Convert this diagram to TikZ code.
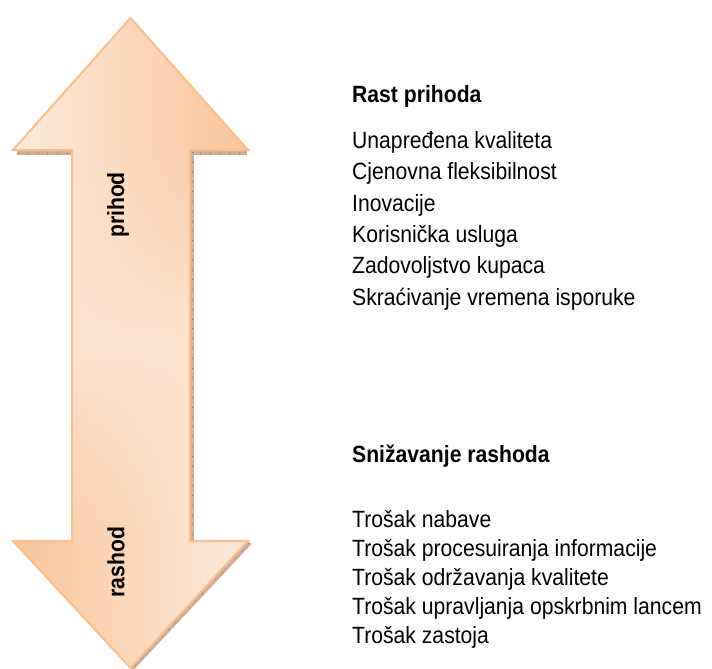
\documentclass[tikz,border=0pt]{standalone}
\usepackage{fontspec}
\setmainfont{Liberation Sans}[FakeStretch=0.9]
\definecolor{arrlight}{HTML}{FDEBDD}
\definecolor{arrdark}{HTML}{F8C49A}
\definecolor{arredge}{HTML}{F9BE8C}
\definecolor{shadowtan}{HTML}{CDAE98}
\definecolor{shadowtick}{HTML}{8E6D58}
\tikzset{
  listtext/.style={anchor=base west, inner sep=0pt, font=\fontsize{23.5bp}{26bp}\selectfont},
  headtext/.style={listtext, font=\fontsize{23.5bp}{26bp}\selectfont\bfseries},
  arrowlabel/.style={rotate=90, inner sep=0pt, font=\fontsize{23.5bp}{26bp}\selectfont\bfseries},
  shadowstrip/.style={fill=shadowtan},
  shadowticks/.style={draw=shadowtick, line width=0.6bp, dash pattern=on 0.8bp off 9bp},
}
\begin{document}
\begin{tikzpicture}[x=1bp, y=-1bp]
\useasboundingbox (0,0) rectangle (712,669);
% shadow strips
\fill[shadowstrip] (17,150) rectangle (72,155);
\fill[shadowstrip] (190,150) rectangle (247,155);
\fill[shadowstrip] (190,150) rectangle (193.5,541);
\fill[shadowstrip] (248,541) -- (251.5,544) -- (133.5,670) -- (130.5,668) -- cycle;
\draw[shadowticks] (18,153) -- (72,153);
\draw[shadowticks] (190,153) -- (247,153);
\draw[shadowticks] (192,152) -- (192,541);
\draw[shadowticks] (249.5,543) -- (132,669);
% arrow body
\begin{scope}
  \clip (130.5,18) -- (248,150) -- (190,150) -- (190,541) -- (248,541)
    -- (130.5,668) -- (13,541) -- (72,541) -- (72,150) -- (13,150) -- cycle;
  \shade[left color=arrlight, right color=arrdark] (13,17) rectangle (248,151);
  \shade[left color=arrdark, right color=arrlight] (13,540) rectangle (248,669);
  \foreach \i in {0,...,39}{
    \pgfmathsetmacro{\ya}{150+\i*9.775}
    \pgfmathsetmacro{\yb}{\ya+10.3}
    \pgfmathsetmacro{\t}{1-2*(\i+0.5)/40}
    \pgfmathsetmacro{\pl}{(\t>0)*20*(1-\t)+(\t<=0)*(20-80*\t)}
    \pgfmathsetmacro{\pr}{(\t<0)*20*(1+\t)+(\t>=0)*(20+80*\t)}
    \shade[left color=arrdark!\pl!arrlight, right color=arrdark!\pr!arrlight]
      (13,\ya) rectangle (248,\yb);
  }
\end{scope}
\draw[arredge, line width=2bp, line join=miter] (130.5,18) -- (248,150) -- (190,150) -- (190,541) -- (248,541)
  -- (130.5,668) -- (13,541) -- (72,541) -- (72,150) -- (13,150) -- cycle;
% labels on arrow
\node[arrowlabel] (prihod) at (118,205) {prihod};
\node[arrowlabel] (rashod) at (116,562) {rashod};
% right text
\node[headtext] (rast) at (352,102.5) {Rast prihoda};
\node[listtext] (r1) at (352,148.3) {Unapređena kvaliteta};
\node[listtext] (r2) at (352,179.7) {Cjenovna fleksibilnost};
\node[listtext] (r3) at (352,211.0) {Inovacije};
\node[listtext] (r4) at (352,242.4) {Korisnička usluga};
\node[listtext] (r5) at (352,273.8) {Zadovoljstvo kupaca};
\node[listtext] (r6) at (352,305.2) {Skraćivanje vremena isporuke};
\node[headtext] (sniz) at (352,462) {Snižavanje rashoda};
\node[listtext] (s1) at (352,527.5) {Trošak nabave};
\node[listtext] (s2) at (352,556.5) {Trošak procesuiranja informacije};
\node[listtext] (s3) at (352,585.5) {Trošak održavanja kvalitete};
\node[listtext] (s4) at (352,614.5) {Trošak upravljanja opskrbnim lancem};
\node[listtext] (s5) at (352,643) {Trošak zastoja};
\end{tikzpicture}
\end{document}
